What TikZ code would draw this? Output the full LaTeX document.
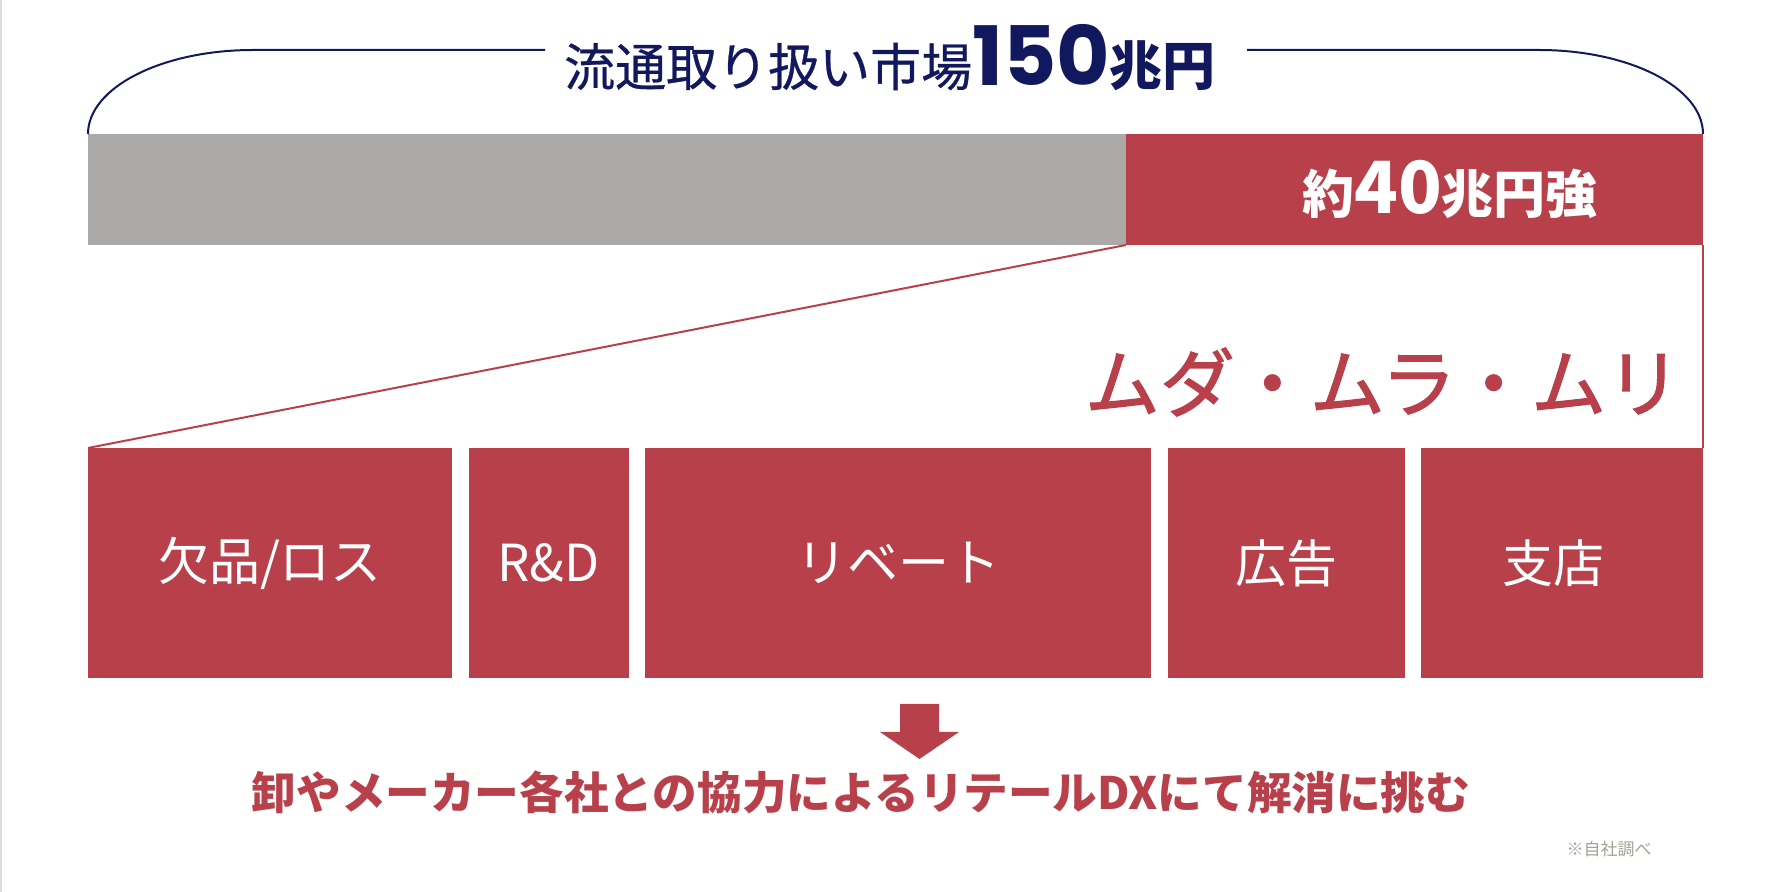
\documentclass[tikz,border=0pt]{standalone}
\usepackage{fontspec}
\setmainfont{Noto Sans CJK JP}
\newfontfamily\medfont[FakeBold=0.6]{Noto Sans CJK JP}
\newfontfamily\heavyfont[FakeBold=1.5]{Noto Sans CJK JP}
\newfontfamily\numfont{Poppins}
\usepackage{xcolor}
\usetikzlibrary{positioning,calc}

\definecolor{ddred}{RGB}{184,64,74}
\definecolor{navy}{RGB}{18,24,94}
\definecolor{bargrey}{RGB}{171,170,168}
\definecolor{notegrey}{RGB}{165,160,150}

\begin{document}
\begin{tikzpicture}[
    x=0.5pt, y=-0.5pt,
    bar/.style={rectangle, inner sep=0, outer sep=0, minimum height=55.5pt},
    cell/.style={rectangle, fill=ddred, text=white, inner sep=0, outer sep=0, minimum height=115pt, font=\fontsize{25.5}{30}\selectfont},
    brace/.style={draw=navy, line width=1pt},
    link/.style={draw=ddred, line width=1pt}
]
\useasboundingbox (0,0) rectangle (1784,892);
\fill[black!14] (0,0) rectangle (2,892);

% Bars
\node[bar, fill=bargrey, minimum width=519pt, anchor=north west] (greybar) at (88,134) {};
\node[bar, fill=ddred, minimum width=288.5pt, anchor=north west] (redbar) at (greybar.north east) {};
\node[text=white, font=\bfseries\fontsize{26}{30}\selectfont] (amount) at (1450,189)
    {約{\fontsize{36}{40}\selectfont 40}兆円強};

% Title
\node[text=navy, inner sep=0] (title) at (890,58)
    {{\medfont\fontsize{25.5}{30}\selectfont 流通取り扱い市場}{\numfont\bfseries\fontsize{41}{44}\selectfont 150}{\bfseries\fontsize{26.5}{30}\selectfont 兆円}};
\coordinate (tleft) at (545,50);
\coordinate (tright) at (1247,50);
\draw[brace] (greybar.north west) arc[start angle=180, end angle=90, x radius=82.5pt, y radius=42pt] -- (tleft);
\draw[brace] (redbar.north east) arc[start angle=0, end angle=90, x radius=82pt, y radius=42pt] -- (tright);

% Breakdown
\node[cell, minimum width=182pt, anchor=north west] (loss) at (88,448) {欠品/ロス};
\node[cell, minimum width=80pt, right=8.25pt of loss] (rd) {R\&D};
\node[cell, minimum width=253pt, right=8.25pt of rd] (rebate) {リベート};
\node[cell, minimum width=118.5pt, right=8.25pt of rebate] (ad) {広告};
\node[cell, minimum width=141pt, right=8.25pt of ad] (branch) {\hspace*{-9pt}支店};

\node[text=ddred, font=\heavyfont\fontsize{37.5}{40}\selectfont] (muda) at (1383,382) {ムダ・ムラ・ムリ};

% Connections
\draw[link] (redbar.south west) -- (loss.north west);
\draw[link] (redbar.south east) -- (branch.north east);

% Conclusion
\fill[ddred] (900,704) -- (939,704) -- (939,732) -- (959,732) -- (919.5,759) -- (880,732) -- (900,732) -- cycle;
\node[text=ddred, font=\bfseries\fontsize{22.3}{26}\selectfont] (goal) at (861,792)
    {卸やメーカー各社との協力によるリテールDXにて解消に挑む};
\node[text=notegrey, font=\fontsize{8.5}{10}\selectfont] (note) at (1609,849) {※自社調べ};

\end{tikzpicture}
\end{document}
